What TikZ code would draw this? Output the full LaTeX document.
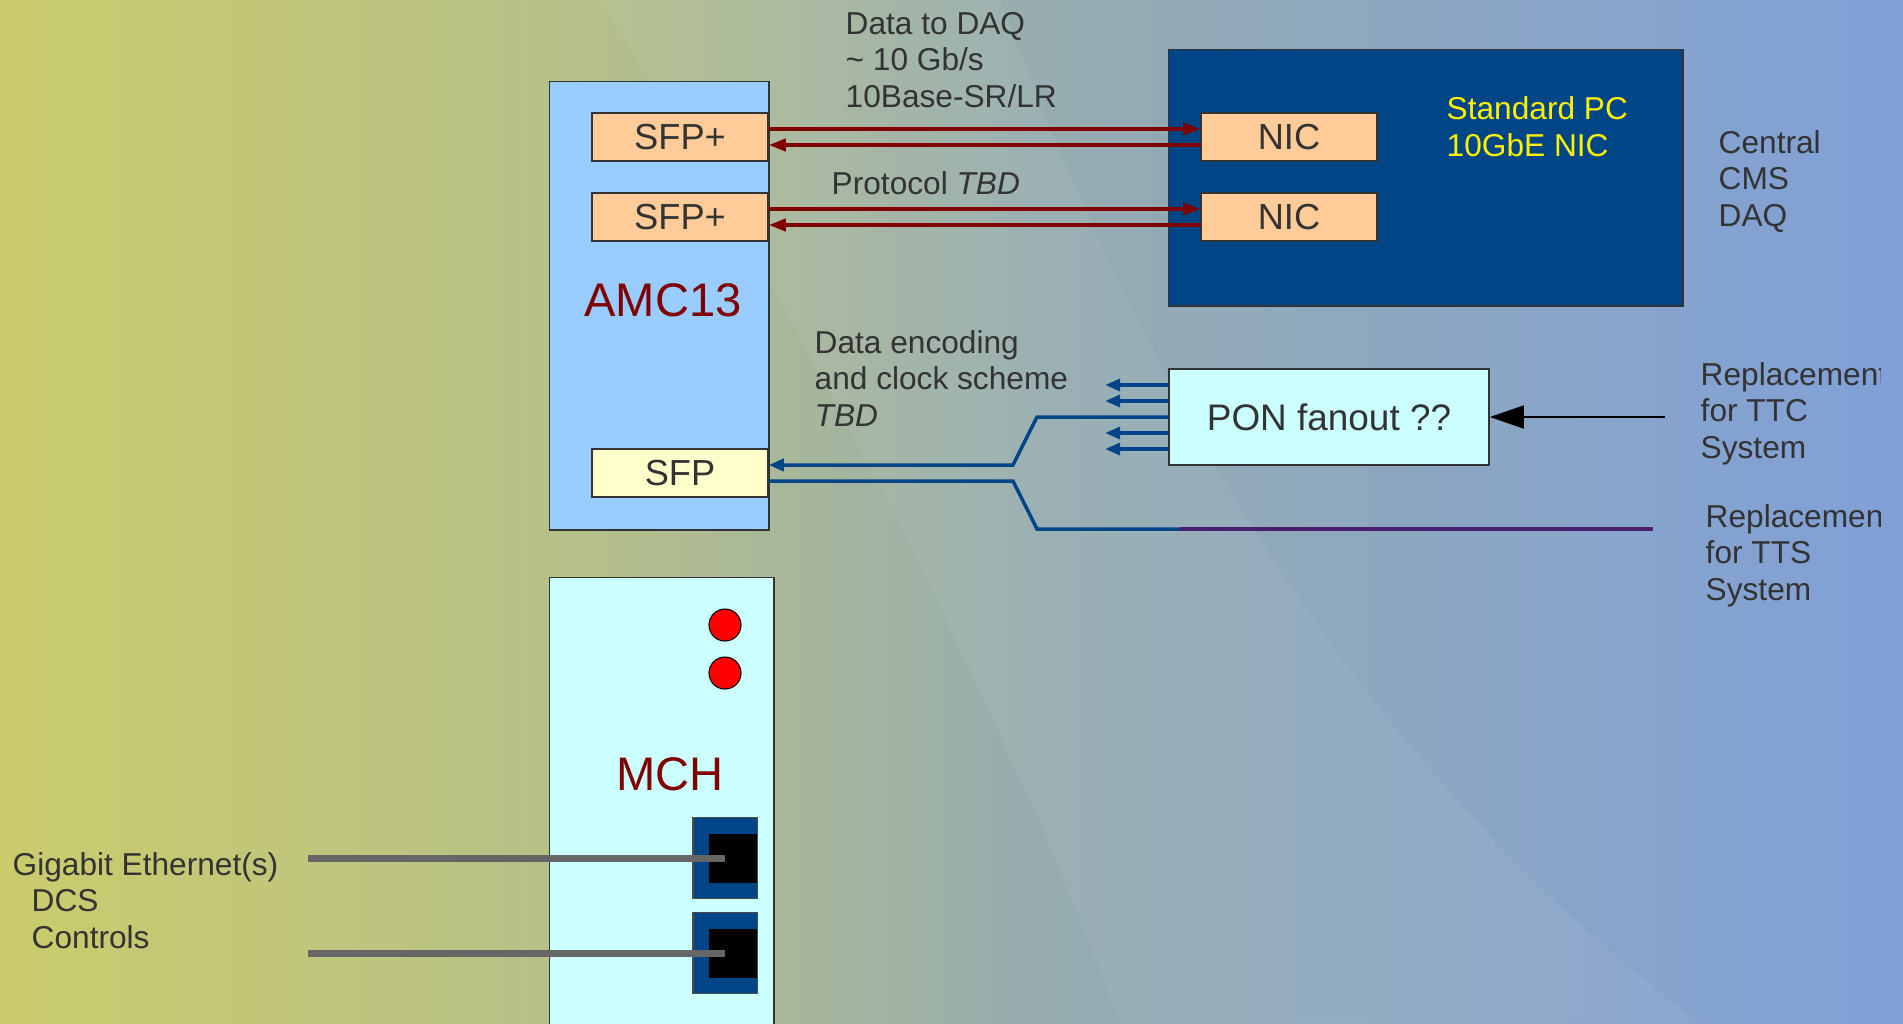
\documentclass[tikz,border=0pt]{standalone}
\usepackage{fontspec}
\setmainfont{Liberation Sans}
\usetikzlibrary{arrows.meta, positioning}
\definecolor{amccolor}{RGB}{153,204,255}
\definecolor{sfppluscolor}{RGB}{255,204,153}
\definecolor{sfpcolor}{RGB}{255,255,204}
\definecolor{mchcolor}{RGB}{204,255,255}
\definecolor{pccolor}{RGB}{0,69,134}
\definecolor{daqcolor}{RGB}{128,0,0}
\definecolor{ttccolor}{RGB}{0,69,134}
\definecolor{ttscolor}{RGB}{75,31,111}
\definecolor{ethcolor}{RGB}{102,102,102}
\definecolor{labelcolor}{RGB}{51,51,51}
\definecolor{bgleft}{RGB}{203,204,108}
\definecolor{bgamc}{RGB}{182,192,136}
\definecolor{bgmid}{RGB}{150,172,176}
\definecolor{bgright}{RGB}{128,160,216}
\pgfdeclarehorizontalshading{bgshading}{100bp}{color(0bp)=(bgleft); color(25bp)=(bgleft); color(40bp)=(bgamc); color(52.5bp)=(bgmid); color(75bp)=(bgright); color(100bp)=(bgright)}
\newcommand{\notefont}{\fontsize{9pt}{10.25pt}\selectfont}
\newcommand{\boxfont}{\fontsize{10.3pt}{12pt}\selectfont}
\newcommand{\ponfont}{\fontsize{10.5pt}{12pt}\selectfont}
\newcommand{\titlefont}{\fontsize{13.4pt}{16pt}\selectfont}

\begin{document}
\begin{tikzpicture}[
    x=0.01cm, y=-0.01cm,
    box/.style={draw=black!80, line width=0.4pt, inner sep=0pt},
    card/.style={box, anchor=north west},
    port/.style={box, minimum width=1.76cm, minimum height=0.48cm, font=\boxfont, text=labelcolor},
    title/.style={font=\titlefont, text=daqcolor, inner sep=0pt},
    note/.style={anchor=base west, align=left, inner sep=0pt, font=\notefont, text=labelcolor},
    led/.style={circle, draw=black, line width=0.3pt, fill=red, minimum size=0.32cm, inner sep=0pt},
    rj/.style={draw=black!70, line width=0.3pt, fill=pccolor, minimum width=0.64cm, minimum height=0.81cm, inner sep=0pt},
    rjhole/.style={fill=black, minimum width=0.48cm, minimum height=0.49cm, inner sep=0pt},
    daqlink/.style={-{Triangle[length=0.17cm, width=0.12cm]}, line width=1.1pt, daqcolor},
    ttclink/.style={-{Triangle[length=0.15cm, width=0.12cm]}, line width=1pt, ttccolor},
    ttslink/.style={line width=1pt, ttccolor},
    ethline/.style={line width=2pt, ethcolor}
]
    % Background
    \clip (0,0) rectangle (1903,1023);
    \shade[shading=bgshading] (0,0) rectangle (1903,1023);
    \fill[white, opacity=0.05] (600,0) .. controls (820,350) and (1000,700) .. (1120,1023) -- (1700,1023) .. controls (1350,760) and (1150,400) .. (1000,0) -- cycle;

    % AMC13
    \node[card, fill=amccolor, minimum width=2.19cm, minimum height=4.48cm] (amc) at (549,81) {};
    \node[title] (amcname) at (663,300) {AMC13};
    \node[port, fill=sfppluscolor] (sfpA) at (680,137) {SFP+};
    \node[port, fill=sfppluscolor] (sfpB) at (680,217) {SFP+};
    \node[port, fill=sfpcolor] (sfpC) at (680,473) {SFP};

    % Central DAQ PC
    \node[card, fill=pccolor, minimum width=5.14cm, minimum height=2.56cm] (pc) at (1168,49) {};
    \node[port, fill=sfppluscolor] (nicA) at (1289,137) {NIC};
    \node[port, fill=sfppluscolor] (nicB) at (1289,217) {NIC};
    \node[note, text=yellow] (pcname) at (1446,156) {Standard PC\\10GbE NIC};

    % PON fanout
    \node[box, fill=mchcolor, minimum width=3.2cm, minimum height=0.96cm, font=\ponfont, text=labelcolor] (pon) at (1329,417) {PON fanout ??};

    % MCH
    \node[card, fill=mchcolor, minimum width=2.24cm, minimum height=5cm] (mch) at (549,577) {};
    \node[title] (mchname) at (670,774) {MCH};
    \node[led] (ledA) at (725,625) {};
    \node[led] (ledB) at (725,673) {};
    \node[rj] (rjA) at (725,858) {};
    \node[rjhole] (holeA) at (733,858) {};
    \node[rj] (rjB) at (725,953) {};
    \node[rjhole] (holeB) at (733,953) {};

    % Labels (anchored at the baseline of the last line)
    \node[note] (daqnote) at (845,107) {Data to DAQ\\\textasciitilde\ 10 Gb/s\\10Base-SR/LR};
    \node[note] (protonote) at (831,194) {Protocol \textit{TBD}};
    \node[note] (encnote) at (814,426) {Data encoding\\and clock scheme\\\textit{TBD}};
    \node[note] (cmsnote) at (1718,226) {Central\\CMS\\DAQ};
    \node[note] (ethnote) at (12,948) {Gigabit Ethernet(s)\\\hspace*{0.19cm}DCS\\\hspace*{0.19cm}Controls};
    \begin{scope}
        \clip (0,0) rectangle (1880,1023);
        \node[note] (ttcnote) at (1700,458) {Replacement\\for TTC\\System};
        \node[note] (ttsnote) at (1705,600) {Replacement\\for TTS\\System};
    \end{scope}

    % DAQ links
    \foreach \s/\n in {sfpA/nicA, sfpB/nicB} {
        \draw[daqlink] ([yshift=0.08cm]\s.east) -- ([yshift=0.08cm]\n.west);
        \draw[daqlink] ([yshift=-0.08cm]\n.west) -- ([yshift=-0.08cm]\s.east);
    }

    % TTC / TTS
    \coordinate (ttcin) at (1665,417);
    \coordinate (ttcbendA) at (1037,417);
    \coordinate (ttcbendB) at (1013,465);
    \coordinate (ttsbendA) at (1013,481);
    \coordinate (ttsbendB) at (1037,529);
    \coordinate (ttsjoin) at (1180,529);
    \coordinate (ttsout) at (1653,529);
    \draw[-{Triangle[length=0.34cm, width=0.23cm]}, line width=0.5pt] (ttcin) -- (pon.east);
    \draw[ttclink] (pon.west) -- (ttcbendA) -- (ttcbendB) -- ([yshift=0.08cm]sfpC.east);
    \foreach \dy in {0.32,0.16,-0.16,-0.32}
        \draw[ttclink] ([yshift=\dy cm]pon.west) -- ++(-0.63cm,0);
    \draw[ttslink] ([yshift=-0.08cm]sfpC.east) -- (ttsbendA) -- (ttsbendB) -- (ttsjoin);
    \draw[ttslink, ttscolor] (ttsjoin) -- (ttsout);

    % Ethernet
    \coordinate (ethA) at (308,858);
    \coordinate (ethB) at (308,953);
    \draw[ethline] (ethA) -- (rjA.center);
    \draw[ethline] (ethB) -- (rjB.center);
\end{tikzpicture}
\end{document}
